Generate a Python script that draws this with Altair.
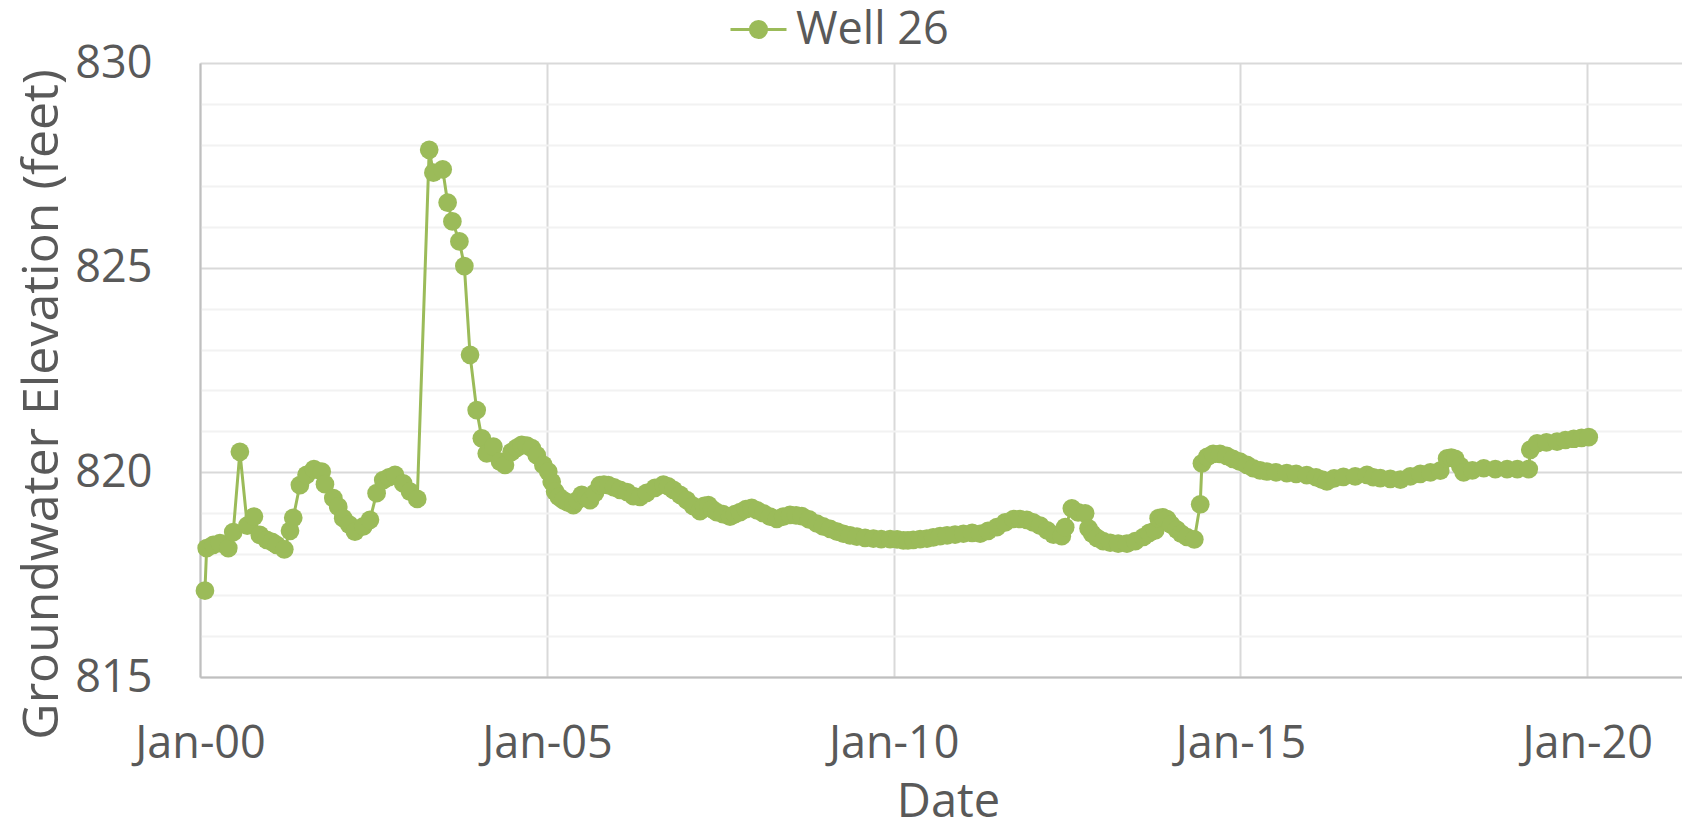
import altair as alt
import pandas as pd

# Decimal years and groundwater elevations (feet)
years = [
    2000.072, 2000.097, 2000.192, 2000.288, 2000.408, 2000.480, 2000.577, 2000.682,
    2000.779, 2000.865, 2000.962, 2001.038, 2001.106, 2001.216, 2001.298, 2001.346,
    2001.442, 2001.538, 2001.644, 2001.755, 2001.803, 2001.922, 2001.995, 2002.067,
    2002.153, 2002.235, 2002.355, 2002.452, 2002.548, 2002.643, 2002.726, 2002.812,
    2002.932, 2003.029, 2003.134,
    2003.307, 2003.365, 2003.500, 2003.572, 2003.639, 2003.740, 2003.812, 2003.894,
    2003.991, 2004.063, 2004.135, 2004.230, 2004.327, 2004.399, 2004.495, 2004.567,
    2004.640, 2004.712, 2004.784, 2004.856, 2004.951, 2005.023, 2005.072, 2005.120,
    2005.177, 2005.239, 2005.307, 2005.384, 2005.444, 2005.505, 2005.567, 2005.624,
    2005.696, 2005.768, 2005.826, 2005.888, 2005.970, 2006.057, 2006.157, 2006.249,
    2006.345, 2006.442, 2006.562, 2006.682, 2006.749, 2006.826, 2006.922, 2007.019,
    2007.110, 2007.211, 2007.269, 2007.330, 2007.384, 2007.451, 2007.542, 2007.643,
    2007.715, 2007.788, 2007.874, 2007.956, 2008.033, 2008.124, 2008.220, 2008.317,
    2008.408, 2008.509, 2008.595, 2008.678, 2008.783, 2008.894, 2008.985, 2009.086,
    2009.187, 2009.278, 2009.374, 2009.471, 2009.590, 2009.710, 2009.821, 2009.951,
    2010.052, 2010.141, 2010.209, 2010.286, 2010.382, 2010.481, 2010.571, 2010.672,
    2010.773, 2010.888, 2011.008, 2011.133, 2011.249, 2011.364, 2011.490, 2011.610,
    2011.729, 2011.826, 2011.922, 2012.013, 2012.114, 2012.215, 2012.306, 2012.427,
    2012.475, 2012.571, 2012.662, 2012.763, 2012.811, 2012.864, 2012.932, 2013.023,
    2013.124, 2013.240, 2013.365, 2013.485, 2013.604, 2013.687, 2013.773, 2013.821,
    2013.881, 2013.942, 2014.004, 2014.086, 2014.148, 2014.231, 2014.336, 2014.422,
    2014.447, 2014.523, 2014.609, 2014.706, 2014.802, 2014.893, 2014.994, 2015.095,
    2015.186, 2015.283, 2015.381, 2015.514, 2015.669, 2015.803, 2015.957, 2016.092,
    2016.178, 2016.249, 2016.352, 2016.487, 2016.655, 2016.825, 2016.916, 2017.017,
    2017.161, 2017.306, 2017.450, 2017.594, 2017.739, 2017.883, 2017.980, 2018.041,
    2018.099, 2018.172, 2018.219, 2018.345, 2018.509, 2018.677, 2018.846, 2018.995,
    2019.158, 2019.181, 2019.278, 2019.413, 2019.567, 2019.687, 2019.807, 2019.918,
    2020.023,
]
elevations = [
    817.11, 818.15, 818.23, 818.27, 818.15, 818.54, 820.50, 818.70,
    818.92, 818.47, 818.35, 818.30, 818.23, 818.12, 818.57, 818.89,
    819.69, 819.94, 820.08, 820.02, 819.71, 819.37, 819.16, 818.88,
    818.72, 818.55, 818.68, 818.84, 819.49, 819.81, 819.88, 819.94,
    819.73, 819.53, 819.35,
    827.88, 827.32, 827.40, 826.59, 826.13, 825.64, 825.04, 822.87,
    821.52, 820.83, 820.46, 820.63, 820.26, 820.18, 820.50, 820.60,
    820.67, 820.65, 820.59, 820.42, 820.18, 820.02, 819.77, 819.53,
    819.40, 819.32, 819.26, 819.20, 819.32, 819.45, 819.40, 819.32,
    819.50, 819.69, 819.70, 819.69, 819.63, 819.57, 819.52, 819.42,
    819.40, 819.50, 819.62, 819.70, 819.66, 819.57, 819.45, 819.32,
    819.18, 819.05, 819.18, 819.20, 819.10, 819.03, 818.98, 818.92,
    818.98, 819.03, 819.10, 819.13, 819.07, 819.00, 818.92, 818.86,
    818.92, 818.96, 818.95, 818.93, 818.85, 818.75, 818.68, 818.62,
    818.55, 818.50, 818.46, 818.43, 818.40, 818.38, 818.37, 818.37,
    818.36, 818.34, 818.34, 818.35, 818.37, 818.38, 818.41, 818.44,
    818.46, 818.48, 818.50, 818.52, 818.50, 818.57, 818.66, 818.78,
    818.86, 818.86, 818.84, 818.78, 818.70, 818.58, 818.48, 818.44,
    818.66, 819.12, 819.02, 819.00, 818.63, 818.50, 818.40, 818.32,
    818.28, 818.26, 818.26, 818.32, 818.42, 818.52, 818.58, 818.88,
    818.90, 818.86, 818.72, 818.60, 818.50, 818.42, 818.36, 819.22,
    820.22, 820.38, 820.45, 820.45, 820.40, 820.33, 820.26, 820.18,
    820.10, 820.05, 820.02, 820.00, 819.98, 819.96, 819.93, 819.88,
    819.82, 819.78, 819.85, 819.89, 819.90, 819.94, 819.88, 819.86,
    819.84, 819.82, 819.90, 819.96, 820.00, 820.04, 820.34, 820.36,
    820.33, 820.15, 820.00, 820.05, 820.10, 820.08, 820.08, 820.08,
    820.08, 820.55, 820.71, 820.73, 820.75, 820.79, 820.82, 820.84,
    820.86,
]
series_name = "Well 26"
x_tick_years = [2000, 2005, 2010, 2015, 2020]
y_values = list(range(815, 831))

GREEN = "#9BBB59"
TEXT = "#595959"
FONT = "Open Sans"

start = pd.Timestamp("2000-01-01")
dates = [start + pd.to_timedelta((y - 2000) * 365.25, unit="D") for y in years]
df = pd.DataFrame({
    "Date": [d.strftime("%Y-%m-%d") for d in dates],
    "Elevation": elevations,
    "Series": series_name,
})

legend_symbol = ("M-1,0L1,0M-0.29,0A0.29,0.29 0 1,0 0.29,0"
                 "A0.29,0.29 0 1,0 -0.29,0Z")

x_enc = alt.X(
    "Date:T",
    scale=alt.Scale(
        type="utc",
        domain=[alt.DateTime(year=2000, month=1, date=1, utc=True),
                alt.DateTime(year=2021, month=5, date=14, utc=True)],
        nice=False,
    ),
    axis=alt.Axis(
        values=[alt.DateTime(year=y, month=1, date=1, utc=True) for y in x_tick_years],
        format="%b-%y",
        title="Date",
        ticks=False,
        labelPadding=44,
        labelFlush=False,
        labelOverlap=False,
        labelFontSize=45,
        labelFont=FONT,
        labelColor=TEXT,
        titleFontSize=47,
        titleFont=FONT,
        titleColor=TEXT,
        titleFontWeight="normal",
        titleX=748,
        titleY=139,
        titleAlign="center",
        titleBaseline="alphabetic",
        grid=True,
        gridColor="#D9D9D9",
        gridWidth=2,
        domainColor="#BFBFBF",
        domainWidth=2,
    ),
)

y_enc = alt.Y(
    "Elevation:Q",
    scale=alt.Scale(domain=[815, 830], nice=False, zero=False),
    axis=alt.Axis(
        values=y_values,
        labelExpr="datum.value % 5 === 0 ? datum.label : ''",
        title="Groundwater Elevation (feet)",
        ticks=False,
        labelPadding=48,
        labelFontSize=45,
        labelFont=FONT,
        labelColor=TEXT,
        titleFontSize=50,
        titleFont=FONT,
        titleColor=TEXT,
        titleFontWeight="normal",
        titleX=-143,
        titleY=341,
        titleAngle=270,
        titleAlign="center",
        titleBaseline="alphabetic",
        grid=True,
        gridColor={"condition": {"test": "datum.value % 5 === 0", "value": "#D9D9D9"},
                   "value": "#F2F2F2"},
        gridWidth=2,
        domainColor="#BFBFBF",
        domainWidth=2,
    ),
)

color_enc = alt.Color(
    "Series:N",
    scale=alt.Scale(range=[GREEN]),
    legend=alt.Legend(
        title=None,
        orient="none",
        legendX=529,
        legendY=-63,
        padding=0,
        symbolType=legend_symbol,
        symbolSize=3136,
        symbolStrokeWidth=3,
        symbolFillColor=GREEN,
        symbolStrokeColor=GREEN,
        labelOffset=8,
        labelFontSize=45,
        labelFont=FONT,
        labelColor=TEXT,
    ),
)

line = alt.Chart(df).mark_line(strokeWidth=3, color=GREEN).encode(
    x=x_enc, y=y_enc, color=color_enc
)
points = alt.Chart(df).mark_circle(size=350, opacity=1, color=GREEN).encode(
    x=x_enc, y=y_enc, color=alt.Color("Series:N", scale=alt.Scale(range=[GREEN]), legend=None)
)

chart = (
    alt.layer(line, points)
    .properties(
        width=1482,
        height=614,
        autosize=alt.AutoSizeParams(type="none"),
        padding={"left": 192, "top": 55, "right": 0, "bottom": 141},
        background="white",
    )
    .configure_view(stroke=None)
)

chart.save("out.html", embed_options={"renderer": "svg", "actions": False})
